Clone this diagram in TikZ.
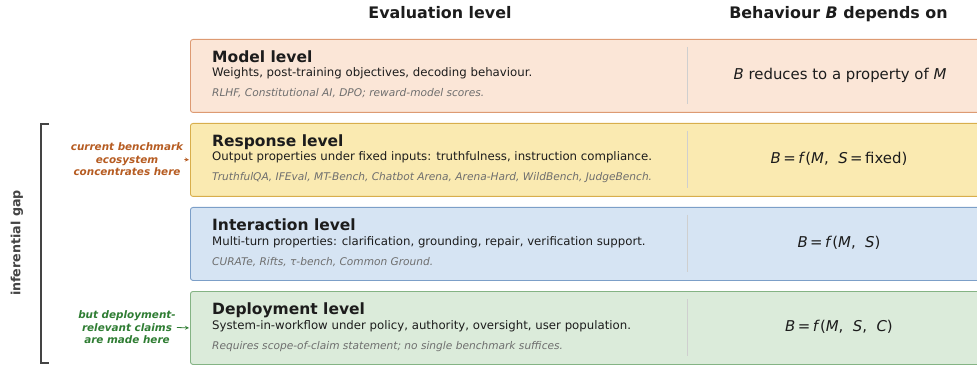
\documentclass[tikz,border=0pt]{standalone}
\usepackage{fontspec}
\setmainfont{DejaVu Sans}
\usepackage{tikz}
\usetikzlibrary{positioning}

\definecolor{modelfill}{HTML}{FBE6D7}
\definecolor{modeledge}{HTML}{DD9A72}
\definecolor{respfill}{HTML}{FAEAB1}
\definecolor{respedge}{HTML}{D8AE4C}
\definecolor{interfill}{HTML}{D6E4F3}
\definecolor{interedge}{HTML}{7C9FC8}
\definecolor{deployfill}{HTML}{DBEBDA}
\definecolor{deployedge}{HTML}{84B384}
\definecolor{inktext}{HTML}{1C1C1C}
\definecolor{srcgray}{HTML}{6E6E6E}
\definecolor{rulegray}{HTML}{CFCFCF}
\definecolor{orangenote}{HTML}{B65C22}
\definecolor{greennote}{HTML}{2F7D33}
\definecolor{bracketgray}{HTML}{444444}

\newcommand{\mv}[1]{\textit{#1}}

\tikzset{
  lvlbox/.style={draw, line width=0.9pt, rounded corners=2.5pt, minimum width=800pt,
    minimum height=73pt, anchor=north west, inner sep=0pt},
  lvltitle/.style={anchor=base west, inner sep=0pt, text=inktext,
    font=\fontsize{15.5}{18}\selectfont\bfseries},
  lvlbody/.style={anchor=base west, inner sep=0pt, text=inktext,
    font=\fontsize{11.75}{14}\selectfont},
  lvlsrc/.style={anchor=base west, inner sep=0pt, text=srcgray,
    font=\fontsize{10.6}{13}\selectfont\itshape},
  depends/.style={anchor=base, inner sep=0pt, text=inktext,
    font=\fontsize{14.9}{17}\selectfont},
  colhead/.style={anchor=base, inner sep=0pt, text=inktext,
    font=\fontsize{15.9}{18}\selectfont\bfseries},
  note/.style={align=center, inner sep=1pt,
    font=\fontsize{10.4}{12.6}\selectfont\bfseries\itshape},
  divider/.style={draw=rulegray, line width=0.9pt},
  pointer/.style={->, >=stealth, line width=0.8pt, shorten >=1pt}
}

\begin{document}
\begin{tikzpicture}[x=1pt,y=-1pt]
  \useasboundingbox (0,0) rectangle (977,366);

  % column headers
  \node[colhead] (hleft) at (440,19) {Evaluation level};
  \node[colhead] (hright) at (838.5,19) {Behaviour \mv{B} depends on};

  % level boxes
  \node[lvlbox, fill=modelfill, draw=modeledge] (model) at (190,39) {};
  \node[lvlbox, fill=respfill, draw=respedge] (response) at (190,123) {};
  \node[lvlbox, fill=interfill, draw=interedge] (interaction) at (190,207) {};
  \node[lvlbox, fill=deployfill, draw=deployedge] (deployment) at (190,291) {};

  % model level
  \node[lvltitle] (mtitle) at (212,62.5) {Model level};
  \node[lvlbody] (mbody) at (212,77) {Weights, post-training objectives, decoding behaviour.};
  \node[lvlsrc] (msrc) at (212,97) {RLHF, Constitutional AI, DPO; reward-model scores.};
  \draw[divider] (687,47) -- (687,104);
  \node[depends] (mdep) at (840,79.5) {\mv{B} reduces to a property of \mv{M}};

  % response level
  \node[lvltitle] (rtitle) at (212,146.5) {Response level};
  \node[lvlbody] (rbody) at (212,161) {Output properties under fixed inputs: truthfulness, instruction compliance.};
  \node[lvlsrc] (rsrc) at (212,181) {TruthfulQA, IFEval, MT-Bench, Chatbot Arena, Arena-Hard, WildBench, JudgeBench.};
  \draw[divider] (687,131) -- (687,188);
  \node[depends] (rdep) at (839,163.5) {\mv{B}\,=\,\mv{f}(\mv{M},\ \ \mv{S}\,=\,fixed)};

  % interaction level
  \node[lvltitle] (ititle) at (212,230.5) {Interaction level};
  \node[lvlbody] (ibody) at (212,245) {Multi-turn properties: clarification, grounding, repair, verification support.};
  \node[lvlsrc] (isrc) at (212,265) {CURATe, Rifts, τ-bench, Common Ground.};
  \draw[divider] (687,215) -- (687,272);
  \node[depends] (idep) at (839,247.5) {\mv{B}\,=\,\mv{f}(\mv{M},\ \ \mv{S})};

  % deployment level
  \node[lvltitle] (dtitle) at (212,314.5) {Deployment level};
  \node[lvlbody] (dbody) at (212,329) {System-in-workflow under policy, authority, oversight, user population.};
  \node[lvlsrc] (dsrc) at (212,349) {Requires scope-of-claim statement; no single benchmark suffices.};
  \draw[divider] (687,299) -- (687,356);
  \node[depends] (ddep) at (839,331.5) {\mv{B}\,=\,\mv{f}(\mv{M},\ \ \mv{S},\ \ \mv{C})};

  % gap bracket
  \draw[bracketgray, line width=1.4pt] (49,124) -- (41,124) -- (41,363) -- (49,363);
  \node[rotate=90, text=bracketgray, inner sep=0pt,
    font=\fontsize{12.7}{15}\selectfont\bfseries] (gap) at (17,243) {inferential gap};

  % annotations
  \node[note, text=orangenote] (curnote) at (127,159.5)
    {current benchmark\\ecosystem\\concentrates here};
  \node[note, text=greennote] (depnote) at (127,327.5)
    {but deployment-\\relevant claims\\are made here};
  \draw[pointer, orangenote] (curnote.east) -- (response.west);
  \draw[pointer, greennote] (depnote.east) -- (deployment.west);
\end{tikzpicture}
\end{document}
